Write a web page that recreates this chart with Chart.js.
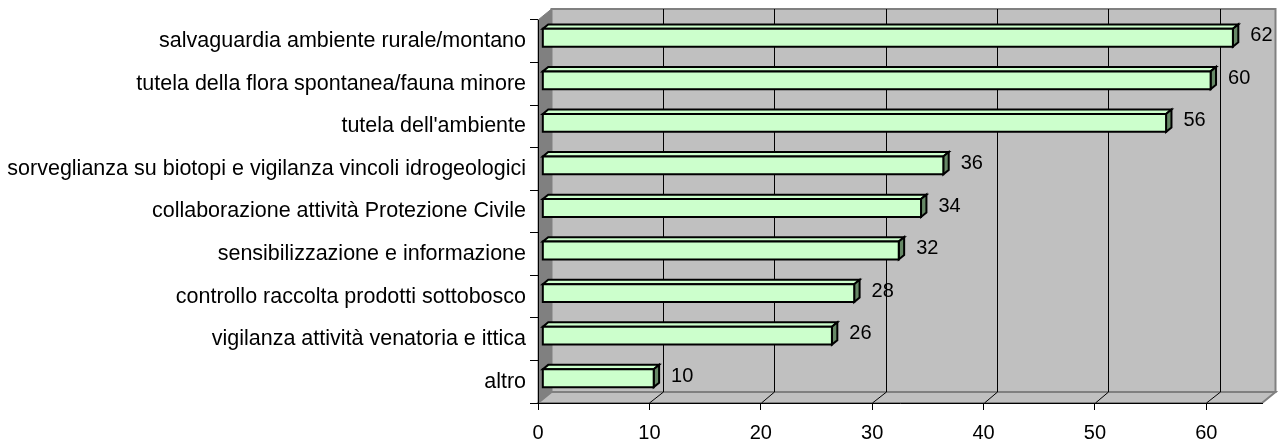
<!DOCTYPE html>
<html>
<head>
<meta charset="utf-8">
<script src="https://cdn.jsdelivr.net/npm/chart.js@4.4.1/dist/chart.umd.min.js"></script>
<style>
  html, body { margin: 0; padding: 0; background: #ffffff; }
  #wrap { width: 1278px; height: 444px; position: relative; }
</style>
</head>
<body>
<div id="wrap"><canvas id="c"></canvas></div>
<script>
const categories = [
  "salvaguardia ambiente rurale/montano",
  "tutela della flora spontanea/fauna minore",
  "tutela dell'ambiente",
  "sorveglianza su biotopi e vigilanza vincoli idrogeologici",
  "collaborazione attività Protezione Civile",
  "sensibilizzazione e informazione",
  "controllo raccolta prodotti sottobosco",
  "vigilanza attività venatoria e ittica",
  "altro"
];
const values = [62, 60, 56, 36, 34, 32, 28, 26, 10];
const xMin = 0;
const xMax = 65;
const xStep = 10;

const DX = 13.5, DY = -11;       // 3D depth offset
const F0 = 0.32, F1 = 0.72;      // bar depth placement
const FONT = "'Liberation Sans', Arial, sans-serif";

function poly(ctx, pts, fill, stroke, lw) {
  ctx.beginPath();
  ctx.moveTo(pts[0][0], pts[0][1]);
  for (let i = 1; i < pts.length; i++) ctx.lineTo(pts[i][0], pts[i][1]);
  ctx.closePath();
  if (fill) { ctx.fillStyle = fill; ctx.fill(); }
  if (stroke) { ctx.strokeStyle = stroke; ctx.lineWidth = lw || 1; ctx.stroke(); }
}

const wallsPlugin = {
  id: 'walls',
  beforeDraw(chart) {
    const ctx = chart.ctx;
    const a = chart.chartArea;
    const xs = chart.scales.x;
    ctx.save();
    ctx.fillStyle = '#ffffff';
    ctx.fillRect(0, 0, chart.width, chart.height);
    // back wall
    poly(ctx, [[a.left + DX, a.top + DY], [a.right + DX, a.top + DY], [a.right + DX, a.bottom + DY], [a.left + DX, a.bottom + DY]], '#C0C0C0', '#808080', 2);
    // left wall
    poly(ctx, [[a.left, a.top], [a.left + DX, a.top + DY], [a.left + DX, a.bottom + DY], [a.left, a.bottom]], '#808080', '#808080', 1);
    // floor
    poly(ctx, [[a.left, a.bottom], [a.left + DX, a.bottom + DY], [a.right + DX, a.bottom + DY], [a.right, a.bottom]], '#C0C0C0', '#808080', 2);
    // gridlines
    ctx.strokeStyle = '#000000';
    ctx.lineWidth = 1;
    for (let v = xMin + xStep; v <= xMax; v += xStep) {
      const px = xs.getPixelForValue(v);
      const front = Math.round(px) + 0.5;
      const back = Math.round(px + DX) + 0.5;
      ctx.beginPath();
      ctx.moveTo(back, a.top + DY);
      ctx.lineTo(back, a.bottom + DY);
      ctx.stroke();
      ctx.beginPath();
      ctx.moveTo(front, a.bottom);
      ctx.lineTo(back, a.bottom + DY);
      ctx.stroke();
    }
    ctx.restore();
  },
  afterDatasetsDraw(chart) {
    const ctx = chart.ctx;
    const meta = chart.getDatasetMeta(0);
    ctx.save();
    ctx.lineJoin = 'miter';
    meta.data.forEach((bar, i) => {
      const p = bar.getProps(['x', 'y', 'base', 'height'], true);
      const h = p.height;
      const xl = p.base + DX * F0, xr = p.x + DX * F0;
      const yt = p.y - h / 2 + DY * F0, yb = p.y + h / 2 + DY * F0;
      const ddx = DX * (F1 - F0), ddy = DY * (F1 - F0);
      poly(ctx, [[xl, yt], [xl + ddx, yt + ddy], [xr + ddx, yt + ddy], [xr, yt]], '#CCFFCC', '#000000', 2);
      poly(ctx, [[xr, yt], [xr + ddx, yt + ddy], [xr + ddx, yb + ddy], [xr, yb]], '#668866', '#000000', 2);
      poly(ctx, [[xl, yt], [xr, yt], [xr, yb], [xl, yb]], '#CCFFCC', '#000000', 2);
      // data label
      ctx.fillStyle = '#000000';
      ctx.font = '20px ' + FONT;
      ctx.textAlign = 'left';
      ctx.textBaseline = 'middle';
      ctx.fillText(String(values[i]), p.x + DX * F1 + 12, p.y + DY * 0.5);
    });
    ctx.restore();
  }
};

new Chart(document.getElementById('c'), {
  type: 'bar',
  data: {
    labels: categories,
    datasets: [{
      data: values,
      backgroundColor: 'rgba(0,0,0,0)',
      borderWidth: 0,
      barPercentage: 0.42,
      categoryPercentage: 1.0
    }]
  },
  options: {
    indexAxis: 'y',
    responsive: true,
    maintainAspectRatio: false,
    animation: false,
    events: [],
    layout: { padding: { left: 0, right: 16, top: 20, bottom: 0 } },
    plugins: { legend: { display: false }, tooltip: { enabled: false } },
    scales: {
      x: {
        type: 'linear',
        min: xMin,
        max: xMax,
        ticks: {
          stepSize: xStep,
          includeBounds: false,
          color: '#000000',
          font: { family: FONT, size: 20 },
          padding: 11
        },
        grid: { drawOnChartArea: false, drawTicks: true, tickLength: 7, color: '#000000' },
        border: { display: true, color: '#000000', width: 1 },
        afterFit(scale) { scale.height = 41; }
      },
      y: {
        ticks: {
          color: '#000000',
          font: { family: FONT, size: 21.5 },
          padding: 4,
          autoSkip: false
        },
        grid: { drawOnChartArea: false, drawTicks: true, tickLength: 8, color: '#000000', offset: true },
        border: { display: true, color: '#000000', width: 1 },
        afterFit(scale) { scale.width = 538; }
      }
    }
  },
  plugins: [wallsPlugin]
});
</script>
</body>
</html>
